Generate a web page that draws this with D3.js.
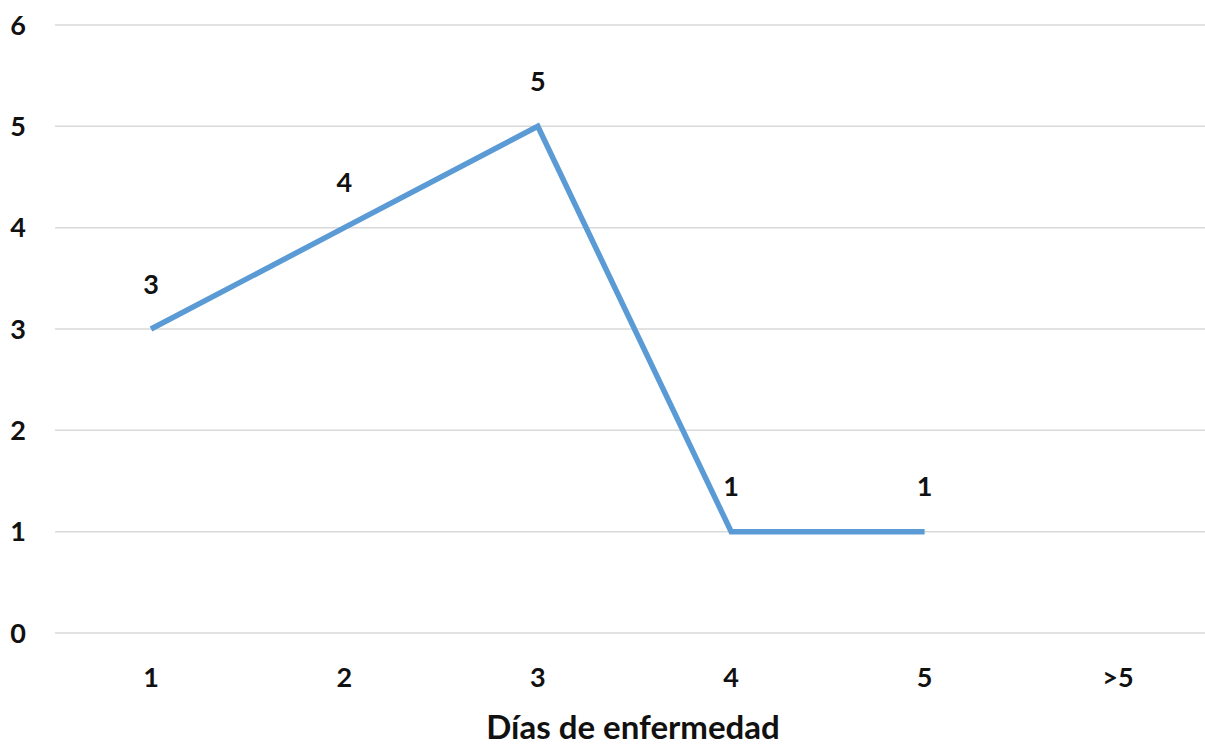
<!DOCTYPE html>
<html><head><meta charset="utf-8">
<script src="https://cdn.jsdelivr.net/npm/d3@7"></script>
<style>body{margin:0;background:#fff;}svg{display:block;}</style>
</head><body>
<svg id="chart" width="1205" height="748"></svg>
<script>
const categories = ["1","2","3","4","5",">5"];
const values = [3,4,5,1,1,null];
const yTicks = [0,1,2,3,4,5,6];
const xTitle = "Días de enfermedad";

const svg = d3.select("#chart");
const font = "Lato, 'Open Sans', sans-serif";
const x = d3.scalePoint().domain(categories).range([151, 1118]);
const y = d3.scaleLinear().domain([0,6]).range([633, 25]);

// gridlines
svg.append("g").selectAll("line").data(yTicks).join("line")
  .attr("x1", 55).attr("x2", 1205)
  .attr("y1", d => y(d)).attr("y2", d => y(d))
  .attr("stroke", "#d9d9d9").attr("stroke-width", 1.5);

// y labels
svg.append("g").selectAll("text").data(yTicks).join("text")
  .attr("x", 18).attr("y", d => y(d)).attr("dy", "0.36em")
  .attr("text-anchor", "middle")
  .attr("font-family", font).attr("font-weight", "bold").attr("font-size", 27)
  .attr("fill", "#111").text(d => d);

// x labels
svg.append("g").selectAll("text").data(categories).join("text")
  .attr("x", d => x(d)).attr("y", 677).attr("dy", "0.36em")
  .attr("text-anchor", "middle")
  .attr("font-family", font).attr("font-weight", "bold").attr("font-size", 27)
  .attr("fill", "#111").text(d => d);

// x title
svg.append("text").attr("x", 633).attr("y", 727).attr("dy", "0.36em")
  .attr("text-anchor", "middle")
  .attr("font-family", font).attr("font-weight", "bold").attr("font-size", 33)
  .attr("fill", "#111").text(xTitle);

const pts = categories.map((c,i) => ({c, v: values[i]}));
const line = d3.line().defined(d => d.v != null).x(d => x(d.c)).y(d => y(d.v));
svg.append("path").datum(pts).attr("d", line)
  .attr("fill", "none").attr("stroke", "#5B9BD5").attr("stroke-width", 5.5)
  .attr("stroke-linejoin", "miter").attr("stroke-linecap", "butt");

// data labels
svg.append("g").selectAll("text").data(pts.filter(d => d.v != null)).join("text")
  .attr("x", d => x(d.c)).attr("y", d => y(d.v) - 45).attr("dy", "0.36em")
  .attr("text-anchor", "middle")
  .attr("font-family", font).attr("font-weight", "bold").attr("font-size", 27)
  .attr("fill", "#111").text(d => d.v);
</script>
</body></html>
